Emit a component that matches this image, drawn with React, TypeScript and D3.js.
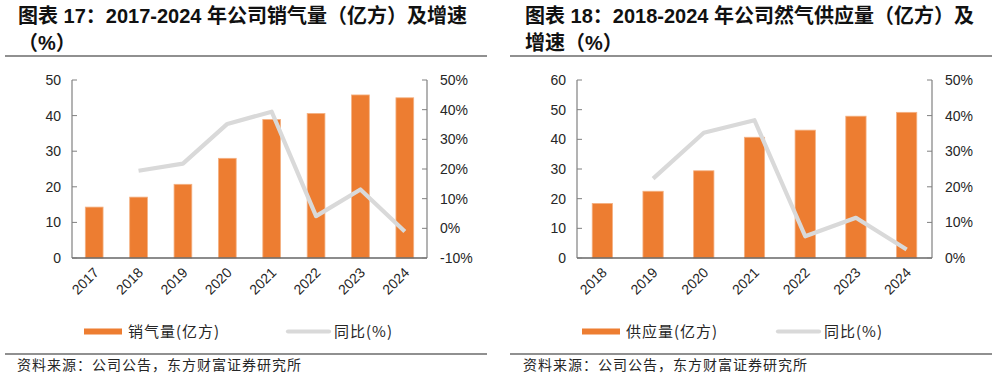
import React from 'react';
import * as d3 from 'd3';

// ---------- Data ----------
const salesYears = ['2017', '2018', '2019', '2020', '2021', '2022', '2023', '2024'];
const salesVolume = [14.3, 17.1, 20.7, 28.0, 38.9, 40.6, 45.8, 45.0];
const salesGrowth: (number | null)[] = [null, 19.4, 21.8, 35.2, 39.3, 4.1, 13.1, -1.1];
const salesLeftTicks = [0, 10, 20, 30, 40, 50];
const salesRightTicks = [-10, 0, 10, 20, 30, 40, 50];

const supplyYears = ['2018', '2019', '2020', '2021', '2022', '2023', '2024'];
const supplyVolume = [18.4, 22.5, 29.4, 40.7, 43.1, 47.8, 49.1];
const supplyGrowth: (number | null)[] = [null, 22.3, 35.2, 38.7, 6.1, 11.3, 2.4];
const supplyLeftTicks = [0, 10, 20, 30, 40, 50, 60];
const supplyRightTicks = [0, 10, 20, 30, 40, 50];

const title1 = ['图表 17：2017-2024 年公司销气量（亿方）及增速', '（%）'];
const title2 = ['图表 18：2018-2024 年公司然气供应量（亿方）及', '增速（%）'];
const legendBar1 = '销气量(亿方)';
const legendBar2 = '供应量(亿方)';
const legendLine = '同比(%)';
const sourceText = '资料来源：公司公告，东方财富证券研究所';

// ---------- Styles ----------
const ORANGE = '#ED7D31';
const GREY_LINE = '#D9D9D9';
const AXIS = '#808080';
const TEXT = '#262626';
const LATIN = '"Liberation Sans", Arial, "Noto Sans CJK SC", sans-serif';
const CJK = '"Noto Sans CJK SC", "Liberation Sans", sans-serif';

type ChartProps = {
  x0: number;
  x1: number;
  years: string[];
  bars: number[];
  growth: (number | null)[];
  leftTicks: number[];
  rightTicks: number[];
  title: string[];
  titleX: number;
  legendBar: string;
  legendBarX: number;
  legendLineX: number;
  ruleX0: number;
  ruleX1: number;
  sourceX: number;
};

function Panel(p: ChartProps) {
  const yTop = 80;
  const yBot = 258;
  const x = d3.scaleBand<string>().domain(p.years).range([p.x0, p.x1]).paddingInner(0.6).paddingOuter(0.3);
  const yL = d3.scaleLinear().domain([p.leftTicks[0], p.leftTicks[p.leftTicks.length - 1]]).range([yBot, yTop]);
  const yR = d3.scaleLinear().domain([p.rightTicks[0], p.rightTicks[p.rightTicks.length - 1]]).range([yBot, yTop]);
  const pts = p.years
    .map((yr, i) => ({ yr, v: p.growth[i] }))
    .filter((d) => d.v !== null) as { yr: string; v: number }[];
  const line = d3
    .line<{ yr: string; v: number }>()
    .x((d) => (x(d.yr) as number) + x.bandwidth() / 2)
    .y((d) => yR(d.v));
  const fmtPct = (v: number) => `${v}%`;
  return (
    <g>
      {/* title */}
      <text x={p.titleX} y={23} fontFamily={LATIN} fontWeight="bold" fontSize={20} fill="#111">
        {p.title[0]}
      </text>
      <text x={p.titleX} y={50} fontFamily={LATIN} fontWeight="bold" fontSize={20} fill="#111">
        {p.title[1]}
      </text>
      <line x1={p.ruleX0} x2={p.ruleX1} y1={56} y2={56} stroke="#222" strokeWidth={1.2} />

      {/* bars */}
      {p.years.map((yr, i) => (
        <rect
          key={yr}
          x={x(yr)}
          y={yL(p.bars[i])}
          width={x.bandwidth()}
          height={yBot - yL(p.bars[i])}
          fill={ORANGE}
          stroke="#F4B183"
          strokeWidth={0.8}
        />
      ))}

      {/* growth line */}
      <path d={line(pts) || ''} fill="none" stroke={GREY_LINE} strokeWidth={4.2} strokeLinejoin="round" />

      {/* axes */}
      <line x1={p.x0} x2={p.x0} y1={yTop} y2={yBot} stroke={AXIS} strokeWidth={1.2} />
      <line x1={p.x1} x2={p.x1} y1={yTop} y2={yBot} stroke={AXIS} strokeWidth={1.2} />
      <line x1={p.x0} x2={p.x1} y1={yBot} y2={yBot} stroke="#666" strokeWidth={1.3} />
      {p.leftTicks.map((t) => (
        <g key={'l' + t}>
          <line x1={p.x0} x2={p.x0 + 5} y1={yL(t)} y2={yL(t)} stroke={AXIS} strokeWidth={1} />
          <text x={p.x0 - 11} y={yL(t)} dy="0.35em" textAnchor="end" fontFamily={LATIN} fontSize={14} fill={TEXT}>
            {t}
          </text>
        </g>
      ))}
      {p.rightTicks.map((t) => (
        <g key={'r' + t}>
          <line x1={p.x1 - 5} x2={p.x1} y1={yR(t)} y2={yR(t)} stroke={AXIS} strokeWidth={1} />
          <text x={p.x1 + 13} y={yR(t)} dy="0.35em" textAnchor="start" fontFamily={LATIN} fontSize={14} fill={TEXT}>
            {fmtPct(t)}
          </text>
        </g>
      ))}
      {p.years.map((yr) => (
        <text
          key={'x' + yr}
          transform={`translate(${(x(yr) as number) + x.bandwidth() / 2 + 2},${270}) rotate(-45)`}
          dy="0.35em"
          textAnchor="end"
          fontFamily={LATIN}
          fontSize={14}
          fill={TEXT}
        >
          {yr}
        </text>
      ))}

      {/* legend */}
      <rect x={p.legendBarX} y={328.5} width={38} height={6} fill={ORANGE} />
      <text x={p.legendBarX + 44} y={332} dy="0.35em" fontFamily={CJK} fontSize={15} letterSpacing={1} fill={TEXT}>
        {p.legendBar}
      </text>
      <line
        x1={p.legendLineX}
        x2={p.legendLineX + 41}
        y1={331.5}
        y2={331.5}
        stroke={GREY_LINE}
        strokeWidth={4.2}
        strokeLinecap="round"
      />
      <text x={p.legendLineX + 46} y={332} dy="0.35em" fontFamily={CJK} fontSize={15} letterSpacing={1} fill={TEXT}>
        {legendLine}
      </text>

      {/* source */}
      <line x1={p.ruleX0} x2={p.ruleX1} y1={354} y2={354} stroke="#222" strokeWidth={1.2} />
      <text x={p.sourceX} y={370} fontFamily={CJK} fontSize={14} letterSpacing={1} fill={TEXT}>
        {sourceText}
      </text>
    </g>
  );
}

export default function App() {
  return (
    <svg
      width={997}
      height={378}
      viewBox="0 0 997 378"
      style={{ position: 'absolute', left: 0, top: 0, background: '#fff' }}
    >
      <rect width={997} height={378} fill="#fff" />
      <Panel
        x0={72}
        x1={427}
        years={salesYears}
        bars={salesVolume}
        growth={salesGrowth}
        leftTicks={salesLeftTicks}
        rightTicks={salesRightTicks}
        title={title1}
        titleX={18}
        legendBar={legendBar1}
        legendBarX={84}
        legendLineX={288}
        ruleX0={5}
        ruleX1={487}
        sourceX={17}
      />
      <Panel
        x0={577}
        x1={932}
        years={supplyYears}
        bars={supplyVolume}
        growth={supplyGrowth}
        leftTicks={supplyLeftTicks}
        rightTicks={supplyRightTicks}
        title={title2}
        titleX={525}
        legendBar={legendBar2}
        legendBarX={582}
        legendLineX={778}
        ruleX0={510}
        ruleX1={992}
        sourceX={523}
      />
    </svg>
  );
}
